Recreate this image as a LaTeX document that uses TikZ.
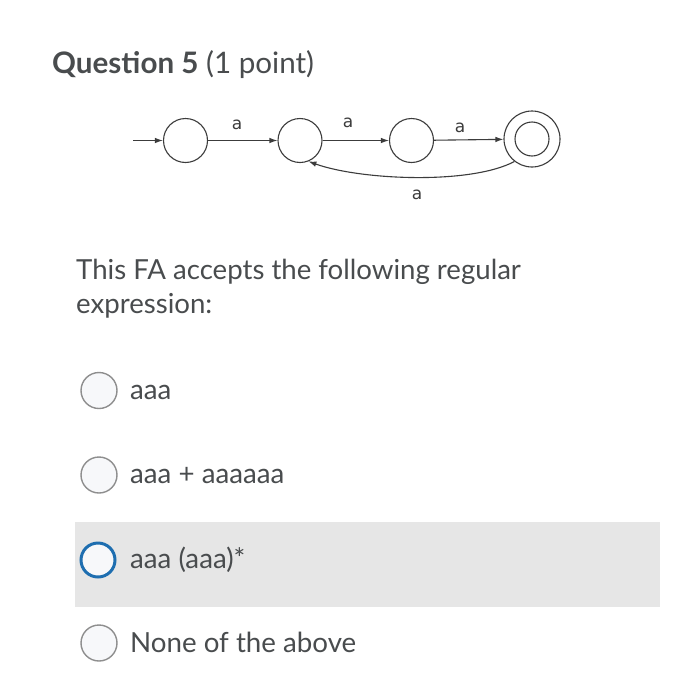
\documentclass[tikz,border=0pt]{standalone}
\usepackage{fontspec}
\setmainfont{Lato}
\newfontfamily\fasans{DejaVu Sans}
\usetikzlibrary{arrows.meta}
\definecolor{txt}{HTML}{494C4E}
\definecolor{fa}{HTML}{3C3C3C}
\definecolor{radiogray}{HTML}{8E8E8E}
\definecolor{radiofill}{HTML}{F7F8FA}
\definecolor{selblue}{HTML}{1E6EB0}
\definecolor{hilite}{HTML}{E6E6E6}
\tikzset{
  state/.style={circle, draw=fa, line width=1.1pt, minimum size=44pt, inner sep=0pt},
  faedge/.style={draw=fa, line width=1.1pt, -{Latex[length=8pt,width=5.5pt]}},
  falabel/.style={font=\fasans\fontsize{17}{17}\selectfont, text=fa, inner sep=0pt},
  radio/.style={circle, draw=radiogray, line width=1.4pt, fill=radiofill, minimum size=36pt, inner sep=0pt},
  radiosel/.style={circle, draw=selblue, line width=3pt, fill=radiofill, minimum size=34pt, inner sep=0pt},
  body/.style={anchor=base west, inner sep=0pt, text=txt, font=\fontsize{27.6}{32}\selectfont},
  opt/.style={anchor=base west, inner sep=0pt, text=txt, font=\fontsize{27.7}{32}\selectfont}
}
\begin{document}
\begin{tikzpicture}[x=1pt,y=-1pt]
\useasboundingbox (0,0) rectangle (700,699);
\fill[white] (0,0) rectangle (700,699);

% title
\node[anchor=base west, inner sep=0pt, text=txt, font=\fontsize{29.6}{34}\selectfont] (title) at (52,73) {\textbf{Question 5} (1 point)};

% finite automaton
\coordinate (start) at (133,140.5);
\node[state] (s1) at (185.5,140.5) {};
\node[state] (s2) at (300,140.5) {};
\node[state] (s3) at (411.5,140.5) {};
\node[state, minimum size=56pt] (s4) at (532,139) {};
\node[circle, draw=fa, line width=1.1pt, minimum size=34pt, inner sep=0pt] (s4in) at (s4.center) {};
\draw[faedge] (start) -- (s1);
\draw[faedge] (s1) -- (s2);
\draw[faedge] (s2) -- (s3);
\draw[faedge] (s3) -- (s4);
\draw[faedge] (s4.-128) .. controls (470,185) and (360,180) .. (s2.-68);
\node[falabel] (l1) at (237,125) {a};
\node[falabel] (l2) at (348,123) {a};
\node[falabel] (l3) at (460,128) {a};
\node[falabel] (l4) at (417,195) {a};

% question text
\node[body] (q1) at (76,279) {This FA accepts the following regular};
\node[body] (q2) at (76,313) {expression:};

% options
\fill[hilite] (75,522) rectangle (660,607);
\node[radio] (r1) at (99,390.5) {};
\node[opt] (o1) at (130,399) {aaa};
\node[radio] (r2) at (99,475) {};
\node[opt] (o2) at (130,483) {aaa + aaaaaa};
\node[radiosel] (r3) at (98,560) {};
\node[opt] (o3) at (130,568) {aaa (aaa)*};
\node[radio] (r4) at (99,643) {};
\node[opt] (o4) at (130,652) {None of the above};
\end{tikzpicture}
\end{document}
